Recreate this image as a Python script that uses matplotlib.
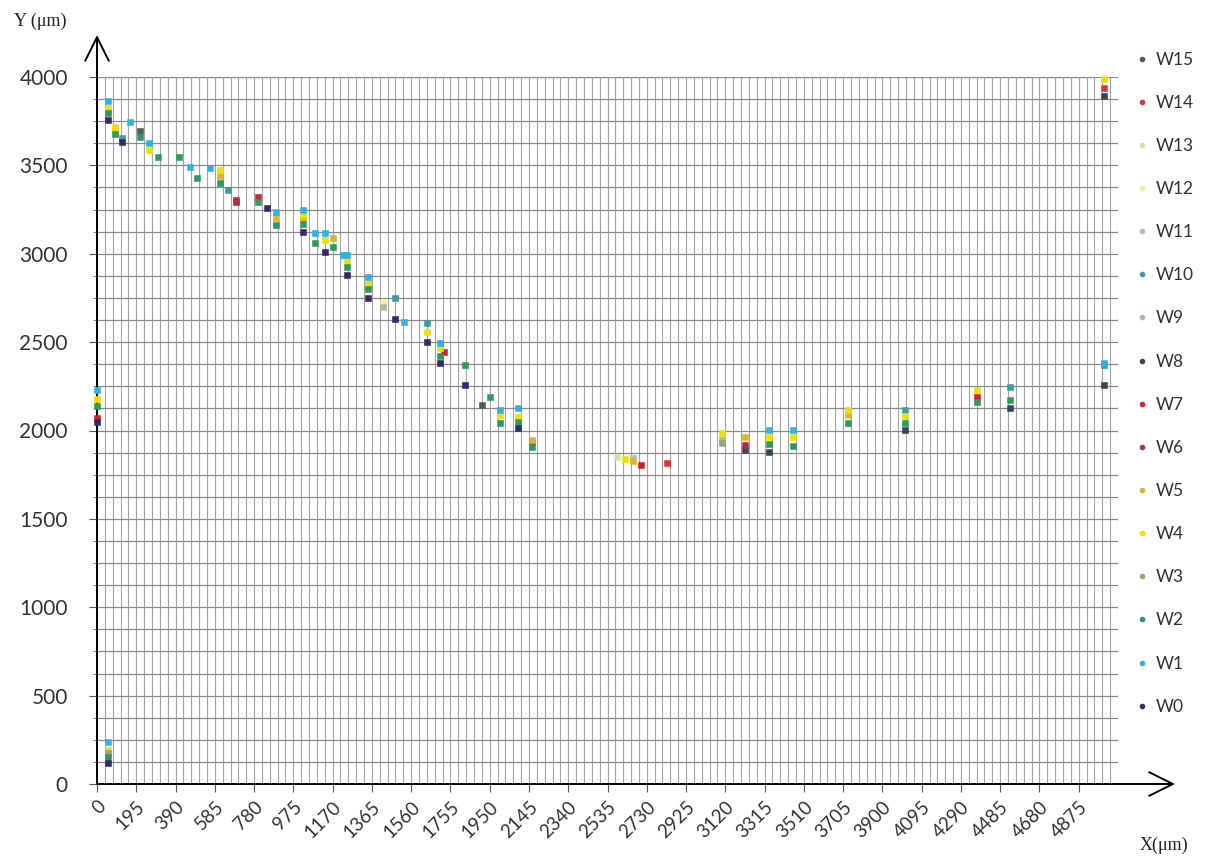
import numpy as np
import matplotlib
matplotlib.use("Agg")
import matplotlib.pyplot as plt
from matplotlib.lines import Line2D

# Measured positions (µm) for each wafer series W0..W15
W0_x = [0, 54, 54, 122, 844, 1023, 1132, 1240, 1346, 1480, 1638, 1703, 1827, 2090]
W0_y = [2050, 3757, 119, 3632, 3258, 3123, 3010, 2880, 2750, 2631, 2500, 2382, 2257, 2015]

W1_x = [0, 54, 54, 166, 258, 462, 561, 889, 1023, 1083, 1132, 1222, 1240, 1346,
        1525, 1703, 2001, 2090, 3336, 3455, 4998]
W1_y = [2230, 3865, 238, 3747, 3626, 3491, 3485, 3238, 3248, 3118, 3118, 2993, 2993, 2870,
        2614, 2495, 2117, 2127, 2003, 2003, 2382]

W2_x = [0, 54, 54, 88, 213, 303, 407, 496, 610, 799, 889, 1023, 1083, 1173, 1240, 1346,
        1703, 1827, 1951, 2001, 2090, 2159, 3336, 3455, 3728, 4011, 4369, 4533]
W2_y = [2140, 3795, 153, 3680, 3662, 3547, 3547, 3430, 3402, 3295, 3163, 3168, 3061, 3040,
        2925, 2800, 2420, 2370, 2190, 2043, 2050, 1907, 1925, 1915, 2040, 2040, 2160, 2172]

W3_x = [54, 3103]
W3_y = [175, 1930]

W4_x = [0, 54, 54, 88, 258, 610, 1023, 1132, 1240, 1346, 1638, 1703, 2001, 2090, 2621,
        3103, 3336, 3455, 3728, 4011, 4369, 4998]
W4_y = [2180, 3825, 192, 3715, 3587, 3474, 3218, 3075, 2960, 2835, 2560, 2465, 2085, 2077,
        1840, 1985, 1965, 1965, 2116, 2080, 2229, 3990]

W5_x = [54, 88, 610, 889, 1023, 1173, 1346, 2159, 2660, 3217, 3728]
W5_y = [3810, 3700, 3440, 3202, 3195, 3090, 2815, 1945, 1830, 1963, 2090]

W6_x = [690, 3217]
W6_y = [3290, 1918]

W7_x = [0, 690, 799, 1721, 2159, 2699, 4369]
W7_y = [2070, 3304, 3323, 2444, 1935, 1805, 2190]

W8_x = [3217, 3336, 4011, 4533, 4998, 4998]
W8_y = [1890, 1878, 2003, 2127, 3890, 2257]

W9_x = [1420, 3103]
W9_y = [2700, 1945]

W10_x = [122, 650, 1480, 1638, 4011, 4533, 4998]
W10_y = [3655, 3360, 2748, 2608, 2116, 2248, 2370]

W11_x = [2660]
W11_y = [1845]

W12_x = [1420, 3103]
W12_y = [2720, 1960]

W13_x = [2582]
W13_y = [1850]

W14_x = [2829, 4998]
W14_y = [1816, 3940]

W15_x = [213, 1911]
W15_y = [3696, 2144]

series_names = [f"W{i}" for i in range(16)]
series_x = [W0_x, W1_x, W2_x, W3_x, W4_x, W5_x, W6_x, W7_x,
            W8_x, W9_x, W10_x, W11_x, W12_x, W13_x, W14_x, W15_x]
series_y = [W0_y, W1_y, W2_y, W3_y, W4_y, W5_y, W6_y, W7_y,
            W8_y, W9_y, W10_y, W11_y, W12_y, W13_y, W14_y, W15_y]
series_colors = ["#33296b", "#2fb2e0", "#2e9a5c", "#9da27c", "#f0e000", "#dcb430",
                 "#a8304e", "#d42030", "#34465a", "#a9bba9", "#3a9c9c", "#bcc0a0",
                 "#efec9c", "#d6deae", "#e2303e", "#4f5a5a"]

x_max = 5070
x_label_ticks = np.arange(0, 4876, 195)
y_ticks = np.arange(0, 4001, 500)

W, H = 1216, 867
fig = plt.figure(figsize=(W / 100, H / 100), dpi=100)
fig.patch.set_facecolor("white")
ax = fig.add_axes([97 / W, 1 - 784 / H, (1118 - 97) / W, (784 - 77) / H])
ax.set_xlim(0, x_max)
ax.set_ylim(0, 4000)

# grid: every 39 µm horizontally, every 125 µm vertically
ax.set_xticks(x_label_ticks)
ax.set_xticks(np.arange(0, x_max + 1, 39), minor=True)
ax.set_yticks(y_ticks)
ax.set_yticks(np.arange(0, 4001, 125), minor=True)
ax.grid(which="both", axis="x", color="#a3a3a3", lw=0.8)
ax.grid(which="both", axis="y", color="#8a8a8a", lw=0.9)
ax.set_axisbelow(True)

for s in ["top", "right", "left", "bottom"]:
    ax.spines[s].set_visible(False)

ax.tick_params(axis="x", which="major", length=6, width=0.8, color="#555555",
               labelsize=13.5, labelcolor="#333333", pad=4)
ax.tick_params(axis="x", which="minor", length=0)
ax.tick_params(axis="y", which="major", length=6, width=0.8, color="#555555",
               labelsize=15, labelcolor="#333333", pad=15)
ax.tick_params(axis="y", which="minor", length=3, width=0.6, color="#777777")
ax.set_xticklabels([str(v) for v in x_label_ticks], rotation=45, ha="right",
                   rotation_mode="anchor", family="Lato")
ax.set_yticklabels([str(v) for v in y_ticks], family="Lato")

# axes with open arrowheads
arrow_style = "->,head_length=1.7,head_width=0.85"
ax.annotate("", xy=(0, 1.0594), xytext=(0, 0), xycoords="axes fraction",
            arrowprops=dict(arrowstyle=arrow_style, color="black", lw=1.4,
                            shrinkA=0, shrinkB=0),
            annotation_clip=False)
ax.annotate("", xy=(1.0558, 0), xytext=(0, 0), xycoords="axes fraction",
            arrowprops=dict(arrowstyle=arrow_style, color="black", lw=1.4,
                            shrinkA=0, shrinkB=0),
            annotation_clip=False)

for name, xs, ys, c in zip(series_names[::-1], series_x[::-1], series_y[::-1],
                           series_colors[::-1]):
    ax.plot(xs, ys, ls="none", marker="s", ms=5.0, color=c, mec=c, mew=0.4,
            zorder=3, clip_on=False)

fig.text(14 / W, 1 - 21 / H, "Y (μm)", family="Liberation Serif", fontsize=13,
         color="#222222", va="center", ha="left")
fig.text(1140 / W, 1 - 845 / H, "X(μm)", family="Liberation Serif", fontsize=13,
         color="#222222", va="center", ha="left")

handles = [Line2D([], [], ls="none", marker="o", ms=3, color=c, mec=c)
           for c in series_colors[::-1]]
ax.legend(handles, series_names[::-1], loc="upper left",
          bbox_to_anchor=(1128 / W, 1 - 43 / H), bbox_transform=fig.transFigure,
          frameon=False, labelspacing=1.563, handlelength=0.6,
          handletextpad=0.5, borderpad=0, labelcolor="#333333",
          prop={"family": "Lato", "size": 12.5})

fig.savefig("out.png", dpi=100, facecolor="white")
